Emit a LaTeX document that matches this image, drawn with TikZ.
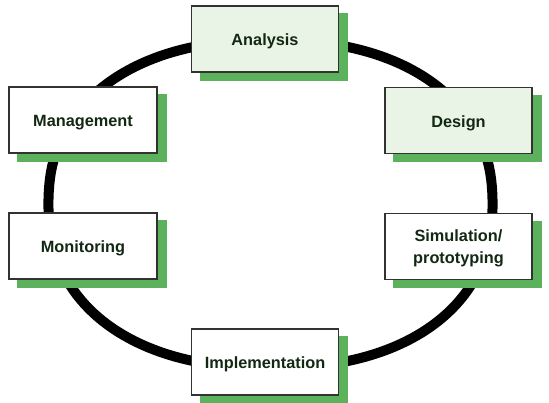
\documentclass[tikz,border=0pt]{standalone}
\usepackage{fontspec}
\setmainfont{Liberation Sans}
\definecolor{shadowgreen}{RGB}{92,178,92}
\definecolor{lightfill}{RGB}{234,244,230}
\definecolor{textc}{RGB}{18,40,18}
\definecolor{edgec}{RGB}{50,50,50}
\tikzset{
  stagebox/.style={draw=edgec, line width=1.1pt, minimum width=147pt, minimum height=66pt,
    inner sep=0pt},
  greenbox/.style={stagebox, fill=lightfill},
  whitebox/.style={stagebox, fill=white},
  stagelabel/.style={align=center, text=textc, inner sep=0pt,
    font=\fontsize{16.3}{22}\selectfont\bfseries},
  ring/.style={line width=10pt, black, line join=round}
}
\newcommand{\boxshadow}[1]{\fill[shadowgreen] ([shift={(9pt,-8pt)}]#1.north west) rectangle ([shift={(9pt,-8pt)}]#1.south east);}
\begin{document}
\begin{tikzpicture}[x=1pt,y=-1pt]
\useasboundingbox (0,0) rectangle (549,402);
\fill[white] (0,0) rectangle (549,402);
\draw[ring] plot[domain=1:359, samples=180]
  ({270.5+222*sign(cos(\x))*pow(abs(cos(\x)),0.889)},
   {204+164*sign(sin(\x))*pow(abs(sin(\x)),0.889)}) -- cycle;
\path
  (265,39) coordinate (anc)
  (458.5,120.5) coordinate (dec)
  (458.5,246.5) coordinate (sic)
  (83,120) coordinate (mac)
  (83,246) coordinate (moc)
  (265,362) coordinate (imc);
\path
  (anc) node[stagebox, draw=none] (an) {}
  (dec) node[stagebox, draw=none] (de) {}
  (sic) node[stagebox, draw=none] (si) {}
  (mac) node[stagebox, draw=none, minimum width=148pt] (ma) {}
  (moc) node[stagebox, draw=none, minimum width=148pt] (mo) {}
  (imc) node[stagebox, draw=none] (im) {};
\boxshadow{an}
\boxshadow{de}
\boxshadow{si}
\boxshadow{ma}
\boxshadow{mo}
\boxshadow{im}
\node[greenbox] at (an) {};
\node[greenbox] at (de) {};
\node[whitebox] at (si) {};
\node[whitebox, minimum width=148pt] at (ma) {};
\node[whitebox, minimum width=148pt] at (mo) {};
\node[whitebox] at (im) {};
\node[stagelabel] (anl) at ([yshift=-2.5pt]an.center) {Analysis};
\node[stagelabel] (del) at ([yshift=-2.5pt]de.center) {Design};
\node[stagelabel] (sil) at ([yshift=-2pt]si.center) {Simulation/\\prototyping};
\node[stagelabel] (mal) at ([yshift=-2.5pt]ma.center) {Management};
\node[stagelabel] (mol) at ([yshift=-2.5pt]mo.center) {Monitoring};
\node[stagelabel] (iml) at ([yshift=-2.5pt]im.center) {Implementation};
\end{tikzpicture}
\end{document}
